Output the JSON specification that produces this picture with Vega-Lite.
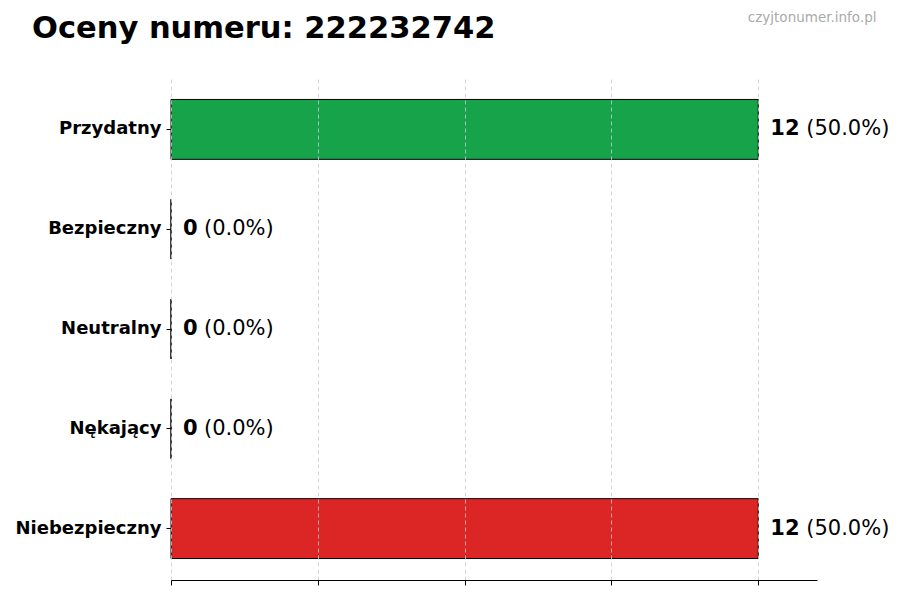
{
  "$schema": "https://vega.github.io/schema/vega-lite/v6.json",
  "width": 646,
  "height": 502,
  "autosize": "none",
  "padding": {"left": 171, "top": 78, "right": 83, "bottom": 20},
  "background": "white",
  "title": {
    "text": "Oceny numeru: 222232742",
    "anchor": "start",
    "frame": "group",
    "dx": -139,
    "offset": -58,
    "baseline": "alphabetic",
    "font": "DejaVu Sans",
    "fontSize": 30.5,
    "fontWeight": "bold",
    "color": "black"
  },
  "data": {
    "values": [
      {"kategoria": "Przydatny", "liczba": 12, "procent": 50.0},
      {"kategoria": "Bezpieczny", "liczba": 0, "procent": 0.0},
      {"kategoria": "Neutralny", "liczba": 0, "procent": 0.0},
      {"kategoria": "Nękający", "liczba": 0, "procent": 0.0},
      {"kategoria": "Niebezpieczny", "liczba": 12, "procent": 50.0}
    ]
  },
  "transform": [
    {"calculate": "'(' + format(datum.procent, '.1f') + '%)'", "as": "etykieta"}
  ],
  "encoding": {
    "y": {
      "field": "kategoria",
      "type": "nominal",
      "sort": null,
      "scale": {"paddingInner": 0.4, "paddingOuter": 0.215},
      "axis": {
        "title": null,
        "domain": false,
        "ticks": true,
        "tickSize": 5,
        "tickColor": "black",
        "labelPadding": 5,
        "labelFont": "DejaVu Sans",
        "labelFontSize": 18,
        "labelFontWeight": "bold",
        "labelColor": "black"
      }
    }
  },
  "layer": [
    {
      "mark": {"type": "bar", "stroke": "black", "strokeWidth": 1},
      "encoding": {
        "x": {
          "field": "liczba",
          "type": "quantitative",
          "scale": {"domain": [0, 13.2], "nice": false},
          "axis": {
            "orient": "bottom",
            "title": null,
            "values": [0, 3, 6, 9, 12],
            "labels": false,
            "tickSize": 5,
            "tickColor": "black",
            "domainColor": "black",
            "grid": true,
            "gridColor": "#cccccc",
            "gridDash": [4, 3],
            "gridWidth": 0.8,
            "zindex": 1
          }
        },
        "color": {
          "field": "kategoria",
          "type": "nominal",
          "legend": null,
          "scale": {
            "domain": ["Przydatny", "Bezpieczny", "Neutralny", "Nękający", "Niebezpieczny"],
            "range": ["#16a34a", "#86efac", "#9ca3af", "#f97316", "#dc2626"]
          }
        }
      }
    },
    {
      "mark": {"type": "text", "align": "left", "baseline": "middle", "dx": 12, "font": "DejaVu Sans", "fontSize": 21, "fontWeight": "bold", "color": "black"},
      "encoding": {
        "x": {"field": "liczba", "type": "quantitative", "axis": null},
        "text": {"field": "liczba", "type": "quantitative", "format": "d"}
      }
    },
    {
      "transform": [{"filter": "datum.liczba >= 10"}],
      "mark": {"type": "text", "align": "left", "baseline": "middle", "dx": 48, "font": "DejaVu Sans", "fontSize": 21, "color": "black"},
      "encoding": {
        "x": {
          "field": "liczba",
          "type": "quantitative",
          "axis": {
            "orient": "top",
            "labels": false,
            "ticks": false,
            "domain": false,
            "grid": false,
            "title": "czyjtonumer.info.pl",
            "titleFont": "DejaVu Sans",
            "titleFontSize": 13.5,
            "titleFontWeight": "normal",
            "titleColor": "#aaaaaa",
            "titleAlign": "right",
            "titleAnchor": "end",
            "titleX": 705,
            "titleY": -57,
            "titleBaseline": "alphabetic"
          }
        },
        "text": {"field": "etykieta", "type": "nominal"}
      }
    },
    {
      "transform": [{"filter": "datum.liczba < 10"}],
      "mark": {"type": "text", "align": "left", "baseline": "middle", "dx": 33, "font": "DejaVu Sans", "fontSize": 21, "color": "black"},
      "encoding": {
        "x": {"field": "liczba", "type": "quantitative", "axis": null},
        "text": {"field": "etykieta", "type": "nominal"}
      }
    }
  ],
  "resolve": {"axis": {"x": "independent"}},
  "config": {"view": {"stroke": null}}
}
